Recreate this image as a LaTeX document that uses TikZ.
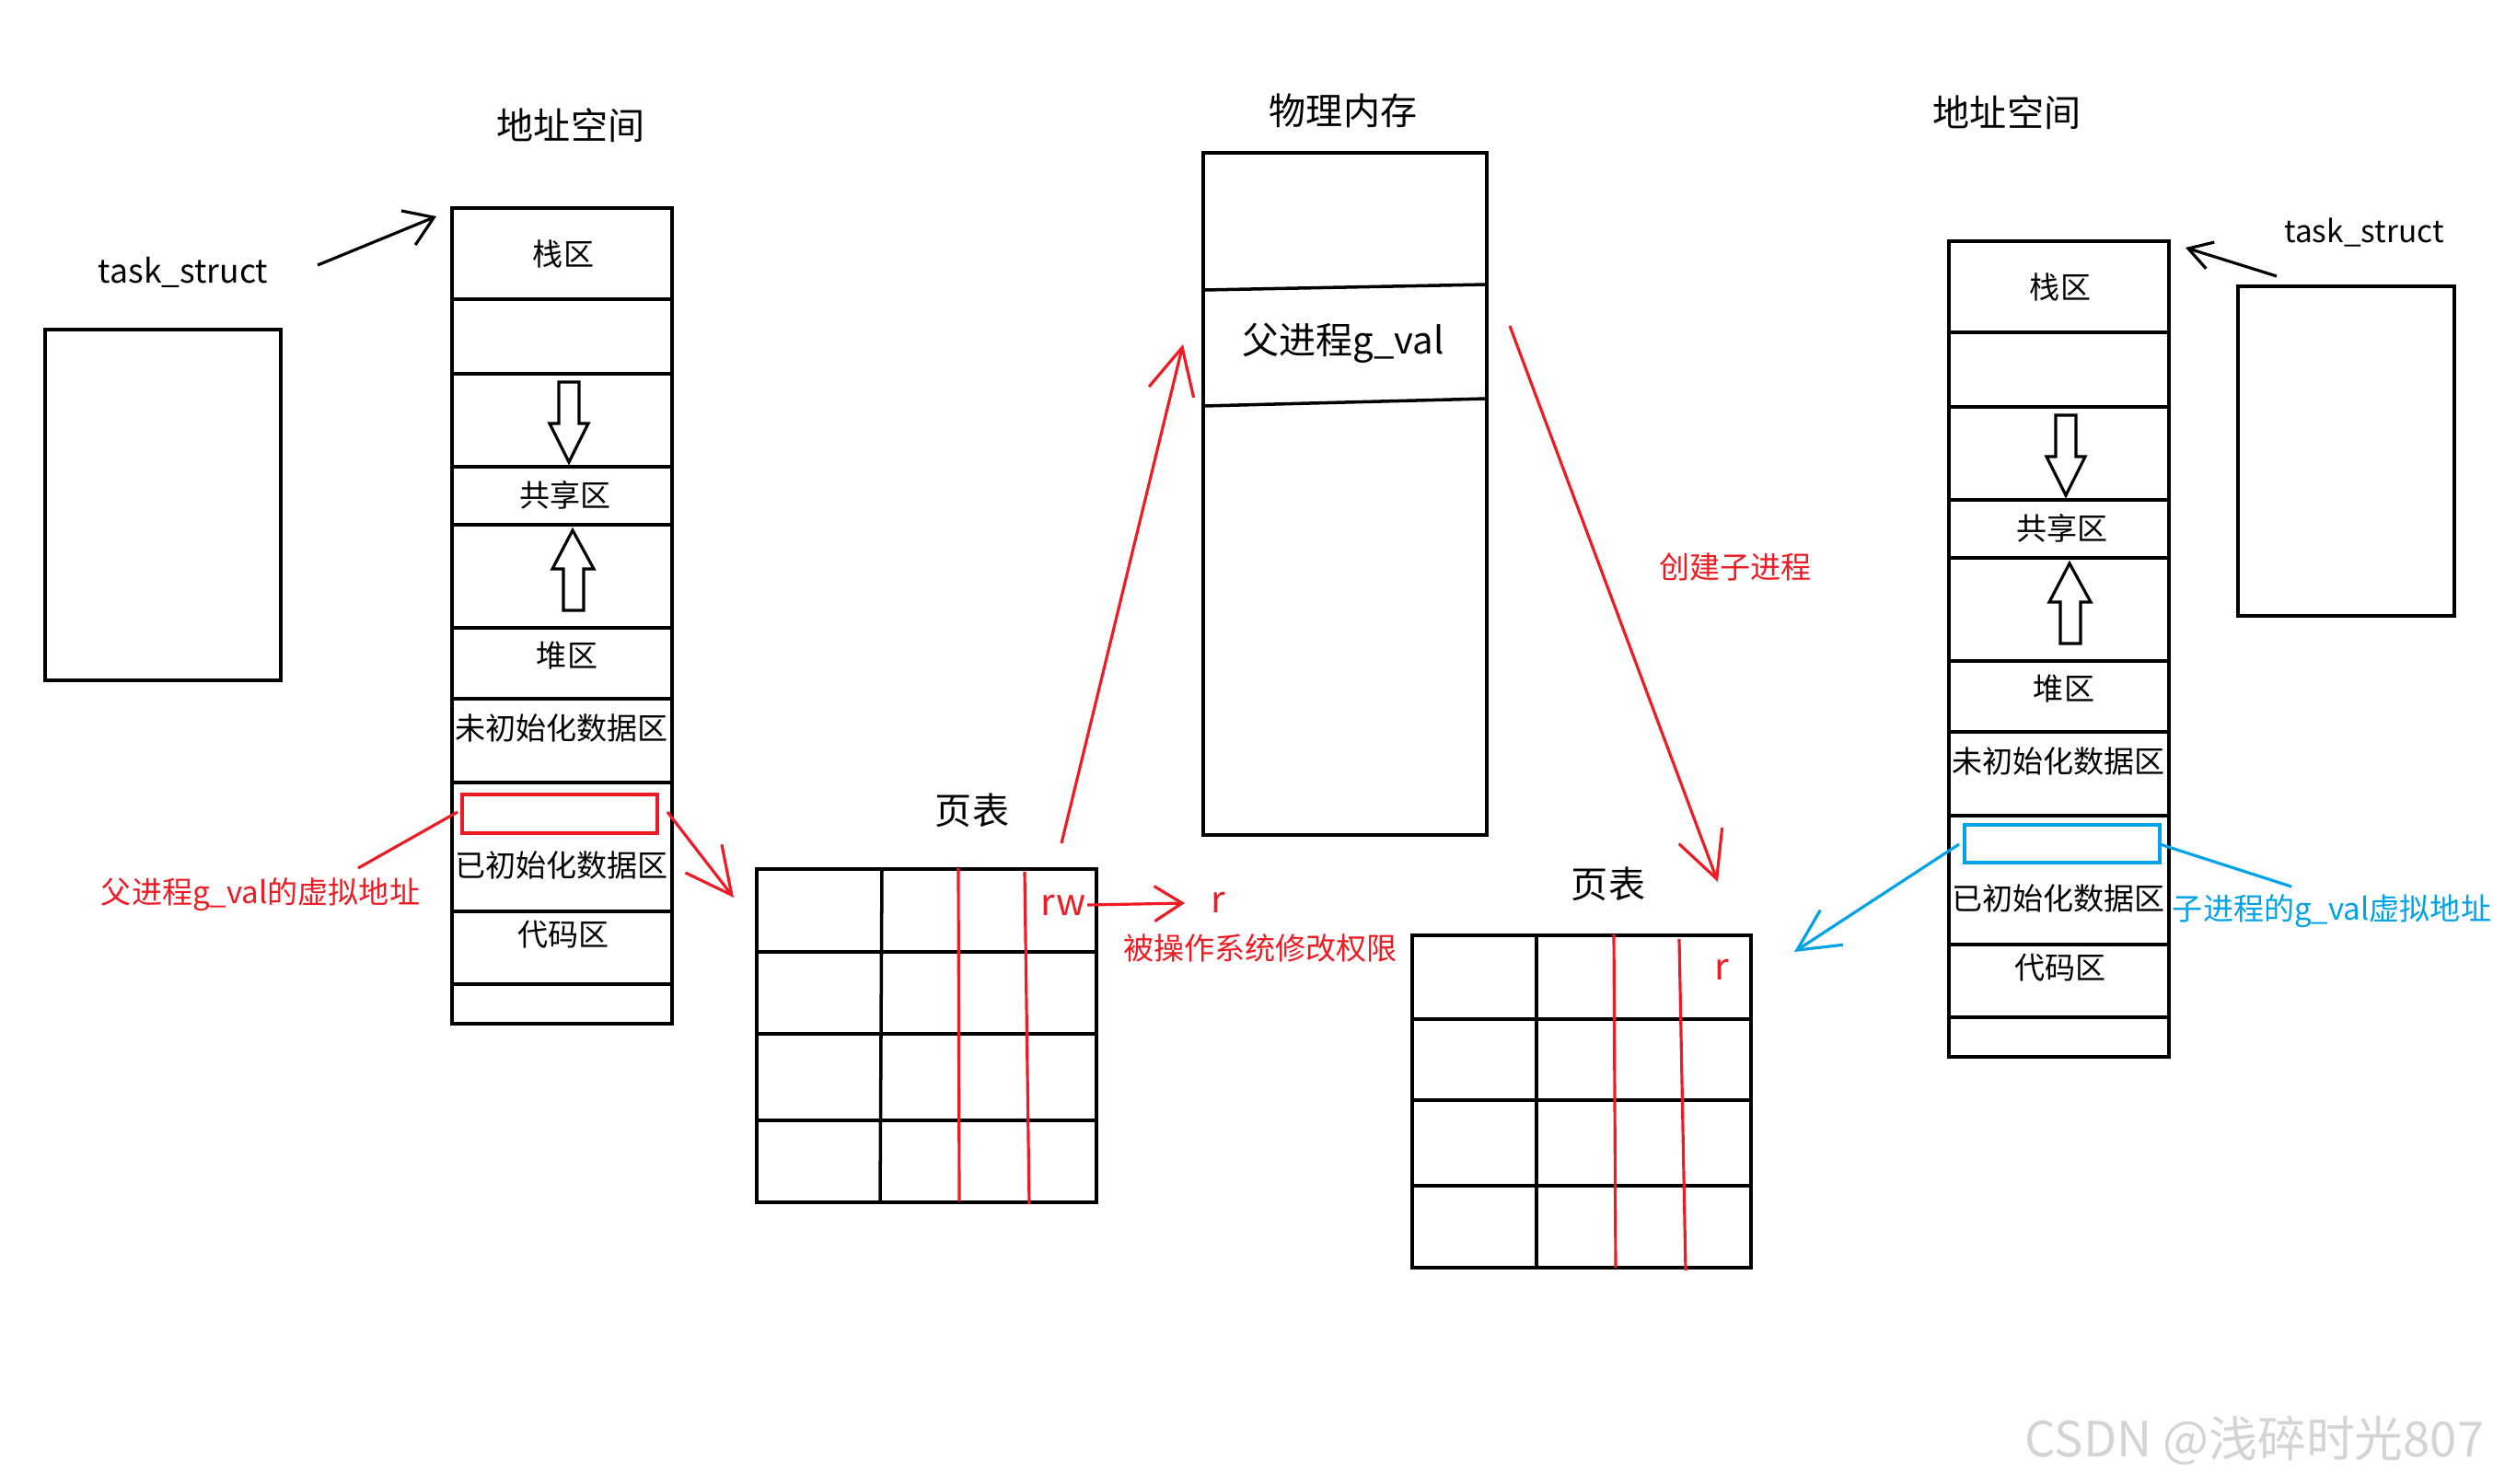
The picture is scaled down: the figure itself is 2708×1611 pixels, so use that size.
\documentclass[tikz,border=0pt]{standalone}
\usepackage{fontspec}
\setmainfont{Noto Sans CJK SC}
\usetikzlibrary{arrows.meta}
\definecolor{penred}{RGB}{237,28,36}
\definecolor{penblue}{RGB}{0,162,232}

\begin{document}
\begin{tikzpicture}[x=0.01cm, y=-0.01cm, line width=1pt,
        ttl/.style={font=\fontsize{11.4}{13}\selectfont},
        seg/.style={font=\fontsize{9.4}{11}\selectfont},
        note/.style={font=\fontsize{9.4}{11}\selectfont},
        pen/.style={line width=0.9pt},
        redarr/.style={draw=penred, pen, -{Straight Barb[length=5mm,width=5mm]}},
        blkarr/.style={pen, -{Straight Barb[length=3mm,width=4mm]}}]
        \fill[white] (0,0) rectangle (2708,1611);
        \useasboundingbox (0,0) rectangle (2708,1611);

        % task_struct of the parent
        \draw (49,358) rectangle (305,739);
        \node[font=\fontsize{10.1}{12}\selectfont] (ptask) at (199,296) {task\_struct};
        \coordinate (ptaskfrom) at (345,288);
        \coordinate (ptaskend) at (474,235);
        \draw[blkarr] (ptaskfrom) -- (ptaskend);

        % parent address space
        \node[ttl] (pspace) at (620,136) {地址空间};
        \begin{scope}
            \draw (491,226) rectangle (730,1112);
            \foreach \y in {325,406,507,570,682,759,850,990,1069}
                \draw (491,\y) -- (730,\y);
            \draw[pen] (607,415) -- (629,415) -- (629,460) -- (639,460) -- (618,502) -- (597,460) -- (607,460) -- cycle;
            \draw[pen] (622,576) -- (645,618) -- (634,618) -- (634,663) -- (612,663) -- (612,618) -- (600,618) -- cycle;
            \node[seg] (pstack) at (612,276) {栈区};
            \node[seg] (pshare) at (614,538) {共享区};
            \node[seg] (pheap) at (616,712) {堆区};
            \node[seg] (pbss) at (610,791) {未初始化数据区};
            \node[seg] (pdata) at (610,940) {已初始化数据区};
            \node[seg] (pcode) at (612,1015) {代码区};
        \end{scope}
        \draw[penred, pen] (502,863) rectangle (714,905);
        \coordinate (pgval) at (497,882);
        \node[note, text=penred] (pgvaltxt) at (283,972) {父进程g\_val的虚拟地址};
        \draw[penred, pen] (pgval) -- (389,943);

        % page table of the parent
        \node[ttl] (ptab) at (1056,880) {页表};
        \draw (822,944) rectangle (1191,1306);
        \foreach \y in {1034,1123,1217}
            \draw (822,\y) -- (1191,\y);
        \draw (958,944) -- (956,1306);
        \draw[penred, pen] (1041,943) -- (1042,1305);
        \draw[penred, pen] (1113,947) -- (1118,1308);
        \node[ttl, text=penred, inner sep=0pt] (rw) at (1155,983) {rw};
        \node[ttl, text=penred] (rnew) at (1323,980) {r};
        \coordinate (rwend) at (1287,981);
        \draw[draw=penred, pen, -{Straight Barb[length=3mm,width=3.8mm]}] (rw.east) -- (rwend);
        \node[note, text=penred] (ospriv) at (1369,1030) {被操作系统修改权限};

        \coordinate (pfrom) at (725,882);
        \coordinate (ptabin) at (797,975);
        \draw[redarr] (pfrom) -- (ptabin);
        \coordinate (ptabout) at (1153,916);
        \coordinate (memin) at (1285,374);
        \draw[redarr] (ptabout) -- (memin);

        % physical memory
        \node[ttl] (mem) at (1459,120) {物理内存};
        \draw (1307,166) rectangle (1615,907);
        \draw (1307,315) -- (1615,309);
        \draw (1307,441) -- (1615,433);
        \node[ttl] (memval) at (1459,373) {父进程g\_val};

        \coordinate (memout) at (1640,354);
        \coordinate (ctabin) at (1866,958);
        \draw[redarr] (memout) -- (ctabin);
        \node[note, text=penred] (fork) at (1885,616) {创建子进程};

        % page table of the child
        \node[ttl] (ctab) at (1747,960) {页表};
        \draw (1534,1016) rectangle (1902,1377);
        \foreach \y in {1107,1195,1288}
            \draw (1534,\y) -- (1902,\y);
        \draw (1669,1016) -- (1669,1377);
        \draw[penred, pen] (1753,1015) -- (1755,1377);
        \draw[penred, pen] (1824,1020) -- (1831,1380);
        \node[ttl, text=penred] (rchild) at (1870,1053) {r};

        % child address space
        \node[ttl] (cspace) at (2180,122) {地址空间};
        \begin{scope}[shift={(1626,36)}]
            \draw (491,226) rectangle (730,1112);
            \foreach \y in {325,406,507,570,682,759,850,990,1069}
                \draw (491,\y) -- (730,\y);
            \draw[pen] (607,415) -- (629,415) -- (629,460) -- (639,460) -- (618,502) -- (597,460) -- (607,460) -- cycle;
            \draw[pen] (622,576) -- (645,618) -- (634,618) -- (634,663) -- (612,663) -- (612,618) -- (600,618) -- cycle;
            \node[seg] (cstack) at (612,276) {栈区};
            \node[seg] (cshare) at (614,538) {共享区};
            \node[seg] (cheap) at (616,712) {堆区};
            \node[seg] (cbss) at (610,791) {未初始化数据区};
            \node[seg] (cdata) at (610,940) {已初始化数据区};
            \node[seg] (ccode) at (612,1015) {代码区};
        \end{scope}
        \draw[penblue, pen] (2134,896) rectangle (2346,937);
        \coordinate (cgval) at (2128,917);
        \coordinate (ctabpt) at (1949,1034);
        \draw[draw=penblue, pen, -{Straight Barb[length=4.5mm,width=4.5mm]}] (cgval) -- (ctabpt);
        \coordinate (cgvalr) at (2346,917);
        \node[note, text=penblue] (cgvaltxt) at (2533,990) {子进程的g\_val虚拟地址};
        \draw[penblue, pen] (cgvalr) -- (2489,963);

        % task_struct of the child
        \draw (2431,311) rectangle (2666,669);
        \node[font=\fontsize{9.5}{11}\selectfont] (ctask) at (2568,253) {task\_struct};
        \coordinate (ctaskfrom) at (2473,300);
        \coordinate (ctaskend) at (2374,269);
        \draw[pen, -{Straight Barb[length=2.5mm,width=3mm]}] (ctaskfrom) -- (ctaskend);

        \node[font=\fontsize{15}{17}\selectfont, text=black!17] (mark) at (2449,1565) {CSDN @浅碎时光807};
    \end{tikzpicture}
\end{document}
